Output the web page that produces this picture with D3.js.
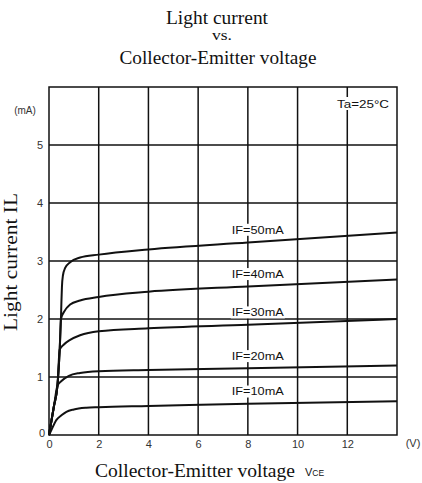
<!DOCTYPE html>
<html><head><meta charset="utf-8">
<script src="https://cdn.jsdelivr.net/npm/d3@7"></script>
<style>body{margin:0;background:#fff}svg{display:block}</style>
</head><body>
<script>
// ---- data ----
const seriesNames = ["IF=10mA", "IF=20mA", "IF=30mA", "IF=40mA", "IF=50mA"];
const vce10 = [0, 0.1, 0.3, 0.5, 0.7, 1.0, 1.5, 2, 4, 8, 14];
const il10  = [0, 0.09, 0.26, 0.34, 0.4, 0.44, 0.47, 0.48, 0.5, 0.54, 0.58];
const vce20 = [0, 0.2, 0.34, 0.5, 0.8, 1.25, 2, 4, 8, 14];
const il20  = [0, 0.5, 0.85, 0.93, 1.02, 1.07, 1.1, 1.12, 1.15, 1.2];
const vce30 = [0, 0.2, 0.34, 0.43, 0.6, 0.85, 1.25, 2, 4, 8, 14];
const il30  = [0, 0.5, 0.85, 1.47, 1.56, 1.64, 1.72, 1.79, 1.84, 1.9, 2.0];
const vce40 = [0, 0.2, 0.34, 0.43, 0.48, 0.6, 0.85, 1.25, 2, 4, 8, 14];
const il40  = [0, 0.5, 0.85, 1.47, 2.0, 2.12, 2.25, 2.32, 2.38, 2.47, 2.56, 2.68];
const vce50 = [0, 0.2, 0.34, 0.43, 0.48, 0.5, 0.52, 0.56, 0.65, 0.85, 1.25, 2, 4, 8, 14];
const il50  = [0, 0.5, 0.85, 1.47, 2.0, 2.3, 2.55, 2.75, 2.88, 2.98, 3.06, 3.11, 3.2, 3.32, 3.49];
const xTicks = [0, 2, 4, 6, 8, 10, 12];
const yTicks = [0, 1, 2, 3, 4, 5];
const labelVce = 8.4;

const series = [
  {name: seriesNames[0], x: vce10, y: il10},
  {name: seriesNames[1], x: vce20, y: il20},
  {name: seriesNames[2], x: vce30, y: il30},
  {name: seriesNames[3], x: vce40, y: il40},
  {name: seriesNames[4], x: vce50, y: il50}
];

// ---- layout ----
const W = 422, H = 483;
const svg = d3.select("body").append("svg").attr("width", W).attr("height", H);
svg.append("rect").attr("width", W).attr("height", H).attr("fill", "#fff");

const x = d3.scaleLinear().domain([0, 14]).range([49, 397]);
const y = d3.scaleLinear().domain([0, 6]).range([435, 87]);
const ink = "#111";
const serif = "'Liberation Serif','Times New Roman',serif";
const sans = "'Liberation Sans',Arial,sans-serif";

// title
const title = svg.append("g").attr("font-family", serif).attr("fill", ink).attr("text-anchor", "middle");
title.append("text").attr("x", 217).attr("y", 24).attr("font-size", 18)
  .attr("textLength", 102).attr("lengthAdjust", "spacingAndGlyphs").text("Light current");
title.append("text").attr("x", 222).attr("y", 40).attr("font-size", 15)
  .attr("textLength", 20).attr("lengthAdjust", "spacingAndGlyphs").text("vs.");
title.append("text").attr("x", 218).attr("y", 64).attr("font-size", 18)
  .attr("textLength", 197).attr("lengthAdjust", "spacingAndGlyphs").text("Collector-Emitter voltage");

// grid
const grid = svg.append("g").attr("stroke", ink).attr("stroke-width", 1.5);
grid.selectAll("line.v").data(xTicks.filter(d => d > 0)).join("line")
  .attr("x1", d => x(d)).attr("x2", d => x(d)).attr("y1", y(6)).attr("y2", y(0));
grid.selectAll("line.h").data(yTicks.filter(d => d > 0)).join("line")
  .attr("x1", x(0)).attr("x2", x(14)).attr("y1", d => y(d)).attr("y2", d => y(d));
svg.append("rect").attr("x", x(0)).attr("y", y(6)).attr("width", x(14) - x(0)).attr("height", y(0) - y(6))
  .attr("fill", "none").attr("stroke", ink).attr("stroke-width", 1.5);

// axes labels via d3.axis
const xAxis = svg.append("g").attr("transform", `translate(0,${y(0)})`)
  .call(d3.axisBottom(x).tickValues(xTicks).tickFormat(d3.format("d")).tickSize(0).tickPadding(5));
xAxis.select(".domain").remove();
xAxis.selectAll("text").attr("font-family", sans).attr("font-size", 11).attr("fill", "#333");

const yAxis = svg.append("g").attr("transform", `translate(${x(0)},0)`)
  .call(d3.axisLeft(y).tickValues(yTicks).tickFormat(d3.format("d")).tickSize(0).tickPadding(6));
yAxis.select(".domain").remove();
yAxis.selectAll("text").attr("font-family", sans).attr("font-size", 11).attr("fill", "#333");
yAxis.selectAll(".tick").filter(d => d === 0).select("text").attr("dx", 2).attr("dy", "0.1em");

svg.append("text").attr("x", 25).attr("y", 114).attr("text-anchor", "middle")
  .attr("font-family", sans).attr("font-size", 10).attr("fill", "#333").text("(mA)");
svg.append("text").attr("x", 413).attr("y", 447).attr("text-anchor", "middle")
  .attr("font-family", sans).attr("font-size", 11).attr("fill", "#333").text("(V)");

// condition label
const ta = svg.append("g");
ta.append("rect").attr("x", 335).attr("y", 97).attr("width", 56).attr("height", 13).attr("fill", "#fff");
ta.append("text").attr("x", 363).attr("y", 108).attr("text-anchor", "middle")
  .attr("font-family", sans).attr("font-size", 10.5).attr("fill", ink)
  .attr("textLength", 52).attr("lengthAdjust", "spacingAndGlyphs").text("Ta=25°C");

// curves
const line = d3.line().x(d => x(d[0])).y(d => y(d[1])).curve(d3.curveMonotoneX);
svg.append("g").selectAll("path").data(series).join("path")
  .attr("d", s => line(s.x.map((v, i) => [v, s.y[i]])))
  .attr("fill", "none").attr("stroke", ink).attr("stroke-width", 2);

// curve labels
function valueAt(s, v) {
  const i = d3.bisectLeft(s.x, v);
  const t = (v - s.x[i - 1]) / (s.x[i] - s.x[i - 1]);
  return s.y[i - 1] + t * (s.y[i] - s.y[i - 1]);
}
const lg = svg.append("g").selectAll("g").data(series).join("g")
  .attr("transform", s => `translate(${x(labelVce)},${y(valueAt(s, labelVce)) - 12})`);
lg.append("rect").attr("x", -27).attr("y", -6).attr("width", 54).attr("height", 12).attr("fill", "#fff");
lg.append("text").attr("text-anchor", "middle").attr("dy", "0.36em")
  .attr("font-family", sans).attr("font-size", 11).attr("fill", ink)
  .attr("textLength", 52).attr("lengthAdjust", "spacingAndGlyphs")
  .text(s => s.name);

// axis titles
svg.append("text").attr("x", 95).attr("y", 476.5).attr("fill", ink)
  .attr("font-family", serif).attr("font-size", 19)
  .attr("textLength", 200).attr("lengthAdjust", "spacingAndGlyphs").text("Collector-Emitter voltage");
svg.append("text").attr("x", 305).attr("y", 476).attr("fill", ink).attr("font-family", sans)
  .attr("font-size", 11).text("V")
  .append("tspan").attr("font-size", 8.5).text("CE");
svg.append("text").attr("transform", "translate(17,262) rotate(-90)").attr("text-anchor", "middle")
  .attr("font-family", serif).attr("font-size", 19).attr("fill", ink)
  .attr("textLength", 138).attr("lengthAdjust", "spacingAndGlyphs")
  .text("Light current IL");
</script>
</body></html>
